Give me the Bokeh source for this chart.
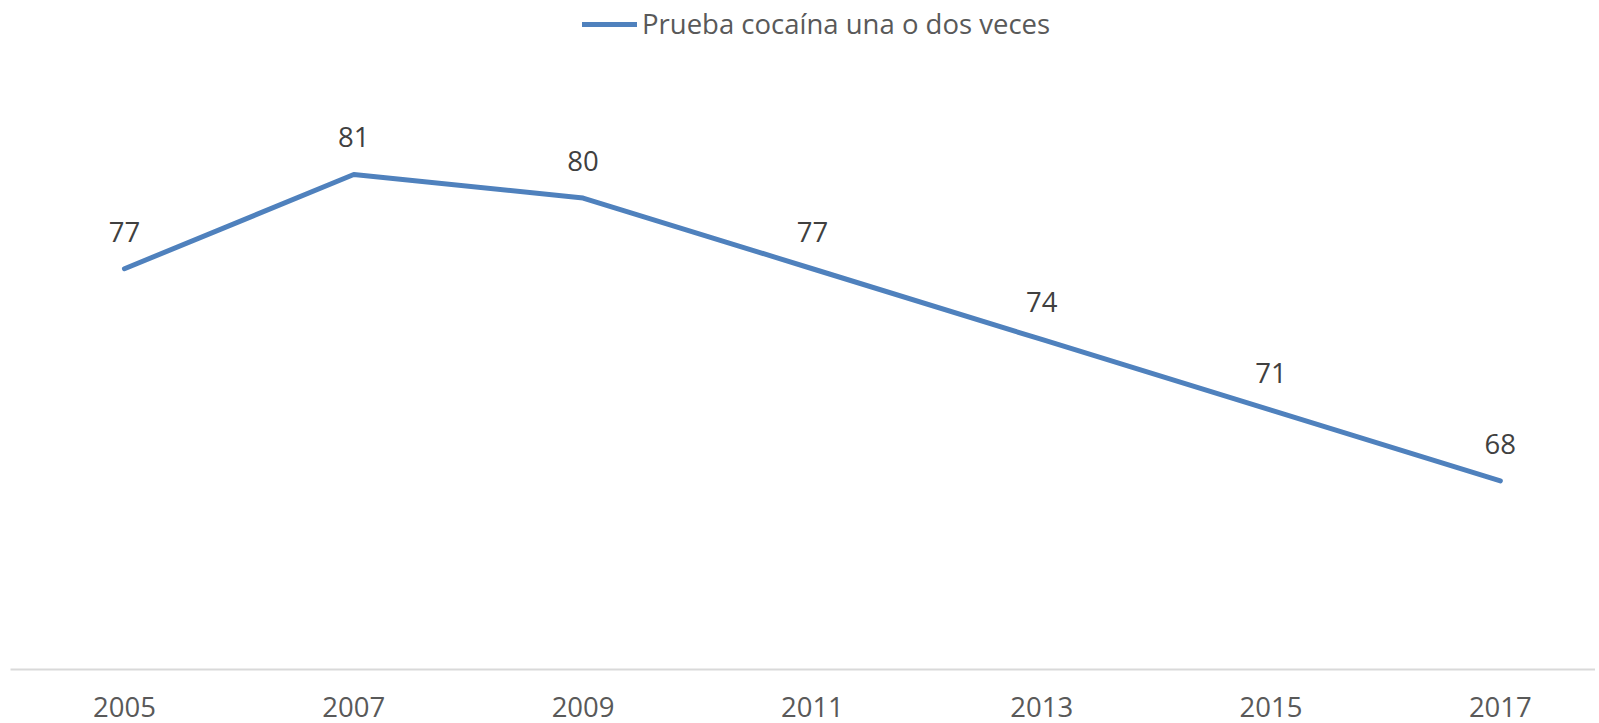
from bokeh.plotting import figure
from bokeh.models import ColumnDataSource, Range1d, FixedTicker, Legend, LegendItem, LabelSet
from bokeh.core.properties import value
from bokeh.embed import file_html
from bokeh.resources import INLINE

years = [2005, 2007, 2009, 2011, 2013, 2015, 2017]
values = [77, 81, 80, 77, 74, 71, 68]
series_name = "Prueba cocaína una o dos veces"
tick_labels = {y: str(y) for y in years}

FONT = "Open Sans"
FS = "27.5px"
LINE_COLOR = "#4F81BD"

src = ColumnDataSource(dict(x=years, y=values, label=[str(v) for v in values]))

p = figure(width=1595, height=722, output_backend="svg", toolbar_location=None,
           x_range=Range1d(2004.006, 2017.83), y_range=Range1d(60, 88.38),
           frame_width=1585, frame_height=669,
           min_border_left=10, min_border_right=0, min_border_top=0, min_border_bottom=53,
           y_axis_location=None)
p.outline_line_color = None
p.xgrid.visible = False
p.ygrid.visible = False
p.background_fill_color = "white"
p.border_fill_color = "white"

r = p.line("x", "y", source=src, line_color=LINE_COLOR, line_width=5, line_cap="round", line_join="round")

labels = LabelSet(x="x", y="y", text="label", source=src, y_offset=37,
                  text_align="center", text_baseline="middle",
                  text_font=value(FONT), text_font_size=value(FS), text_color=value("#404040"))
p.add_layout(labels)

ax = p.xaxis[0]
ax.ticker = FixedTicker(ticks=years)
ax.major_label_overrides = tick_labels
ax.axis_line_color = "#D9D9D9"
ax.axis_line_width = 2
ax.major_tick_line_color = None
ax.minor_tick_line_color = None
ax.major_tick_out = 0
ax.major_tick_in = 0
ax.major_label_standoff = 27
ax.major_label_text_font = FONT
ax.major_label_text_font_size = FS
ax.major_label_text_color = "#595959"

legend = Legend(items=[LegendItem(label=series_name, renderers=[r])],
                location=(572, 627), orientation="horizontal",
                glyph_width=55, glyph_height=30, label_standoff=5, label_height=30,
                padding=0, margin=0, spacing=0,
                label_text_font=FONT, label_text_font_size=FS, label_text_color="#595959",
                background_fill_alpha=0, border_line_alpha=0)
p.add_layout(legend)

open("out.html", "w").write(file_html(p, INLINE))
